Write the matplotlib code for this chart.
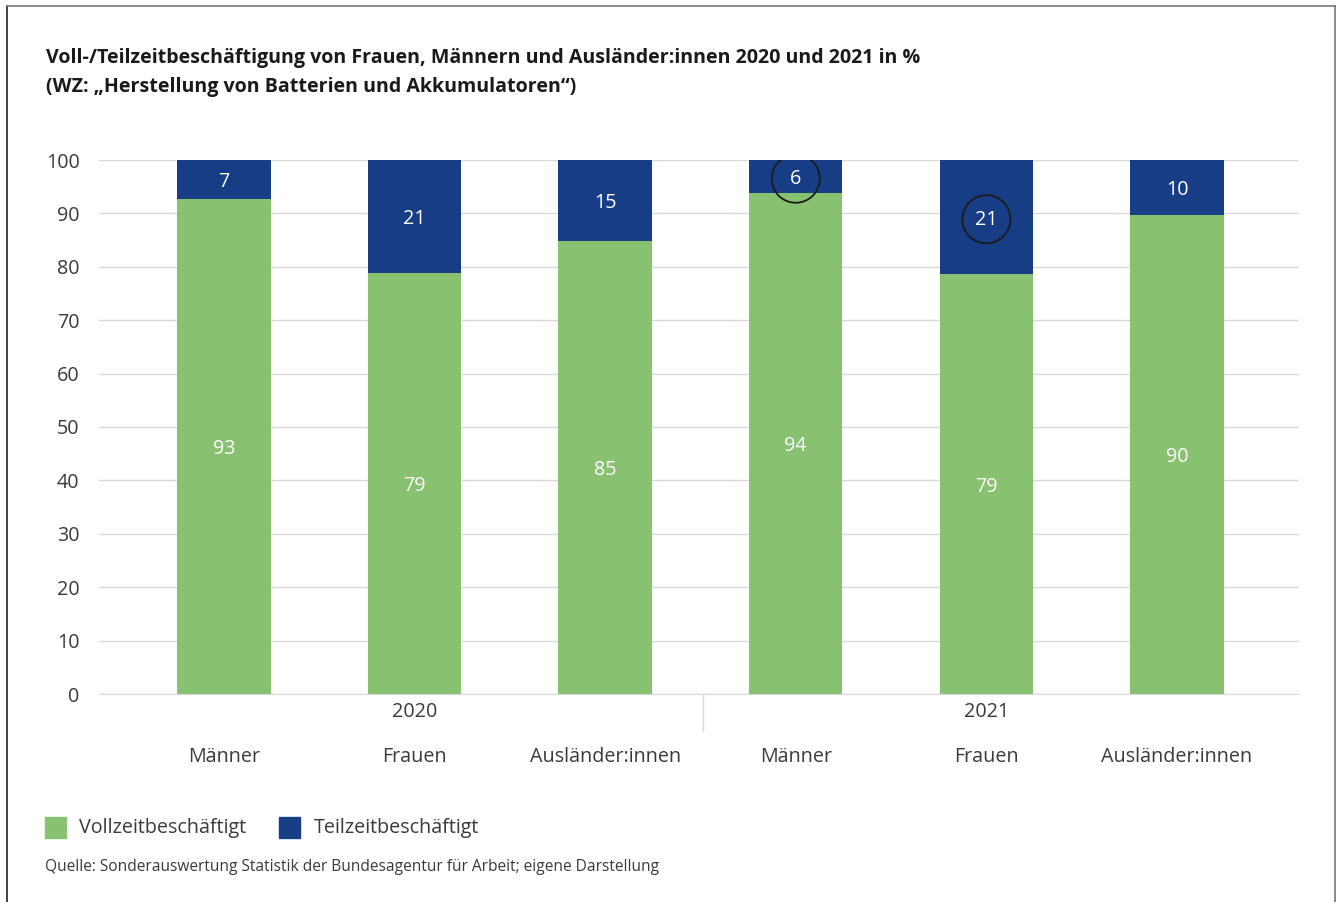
import numpy as np
import matplotlib.pyplot as plt
from matplotlib.patches import Rectangle

# data (share in %)
groups = ["Männer", "Frauen", "Ausländer:innen", "Männer", "Frauen", "Ausländer:innen"]
years = ["2020", "2021"]
vollzeit = [92.7, 78.8, 84.8, 93.8, 78.6, 89.7]
teilzeit = [100 - v for v in vollzeit]
highlight = [3, 4]  # circled part-time labels

GREEN = "#88C170"
BLUE = "#173E84"
TEXT = "#3a3a3a"
FS = 14.2

plt.rcParams["font.family"] = ["Open Sans", "DejaVu Sans"]

W, H = 1338, 902
fig = plt.figure(figsize=(W / 100, H / 100), dpi=100)


def fx(px):
    return px / W


def fy(py):
    return 1 - py / H


ax = fig.add_axes([fx(99), fy(694), fx(1299) - fx(99), fy(160) - fy(694)])


def ay(py):
    # pixel row -> axes fraction
    return (fy(py) - fy(694)) / (fy(160) - fy(694))


x = np.arange(len(groups))
ax.bar(x, vollzeit, width=0.49, color=GREEN, zorder=2)
ax.bar(x, teilzeit, width=0.49, bottom=vollzeit, color=BLUE, zorder=2)

for i in x:
    ax.text(i, vollzeit[i] / 2, f"{vollzeit[i]:.0f}", ha="center", va="center_baseline",
            color="white", fontsize=FS, zorder=3)
    ax.text(i, vollzeit[i] + teilzeit[i] / 2, f"{teilzeit[i]:.0f}", ha="center",
            va="center_baseline", color="white", fontsize=FS, zorder=3)

for i in highlight:
    ax.scatter(i, vollzeit[i] + teilzeit[i] / 2 - 0.4, s=1200, facecolors="none",
               edgecolors="#1a1a1a", linewidths=1.3, zorder=4)

ax.set_xlim(-0.655, 5.64)
ax.set_ylim(0, 100)
ax.set_yticks(range(0, 101, 10))
ax.yaxis.grid(True, color="#D9D9D9", linewidth=1, zorder=0)
ax.tick_params(axis="y", length=0, pad=14, labelsize=FS, labelcolor=TEXT)
ax.set_xticks([])
for s in ["top", "right", "left"]:
    ax.spines[s].set_visible(False)
ax.spines["bottom"].set_color("#D9D9D9")

# two-level category axis: years, then groups
for k, yr in enumerate(years):
    ax.text(1 + 3 * k, ay(712), yr, transform=ax.get_xaxis_transform(),
            ha="center", va="center", fontsize=FS, color=TEXT)
for i, g in enumerate(groups):
    ax.text(i, ay(757), g, transform=ax.get_xaxis_transform(),
            ha="center", va="center", fontsize=FS, color=TEXT)
fig.add_artist(plt.Line2D([fx(703), fx(703)], [fy(694), fy(731)], color="#D9D9D9", lw=1))

fig.text(fx(46), fy(58), "Voll-/Teilzeitbeschäftigung von Frauen, Männern und Ausländer:innen 2020 und 2021 in %",
         fontsize=14.1, fontweight="bold", color="#1a1a1a", va="center")
fig.text(fx(46), fy(87), "(WZ: „Herstellung von Batterien und Akkumulatoren“)",
         fontsize=14.1, fontweight="bold", color="#1a1a1a", va="center")

# legend
fig.add_artist(Rectangle((fx(45), fy(838)), fx(21), fy(817) - fy(838), color=GREEN))
fig.text(fx(79), fy(828), "Vollzeitbeschäftigt", fontsize=FS, color=TEXT, va="center")
fig.add_artist(Rectangle((fx(279), fy(838)), fx(21), fy(817) - fy(838), color=BLUE))
fig.text(fx(314), fy(828), "Teilzeitbeschäftigt", fontsize=FS, color=TEXT, va="center")

fig.text(fx(45), fy(867), "Quelle: Sonderauswertung Statistik der Bundesagentur für Arbeit; eigene Darstellung",
         fontsize=11.2, color=TEXT, va="center")

# frame
fig.add_artist(plt.Line2D([fx(7), fx(7)], [0, fy(6)], color="#222222", lw=1.2))
fig.add_artist(plt.Line2D([fx(7), fx(1335)], [fy(6), fy(6)], color="#777777", lw=1.2))
fig.add_artist(plt.Line2D([fx(1335), fx(1335)], [0, fy(6)], color="#777777", lw=1.2))

fig.savefig("out.png", dpi=100)
